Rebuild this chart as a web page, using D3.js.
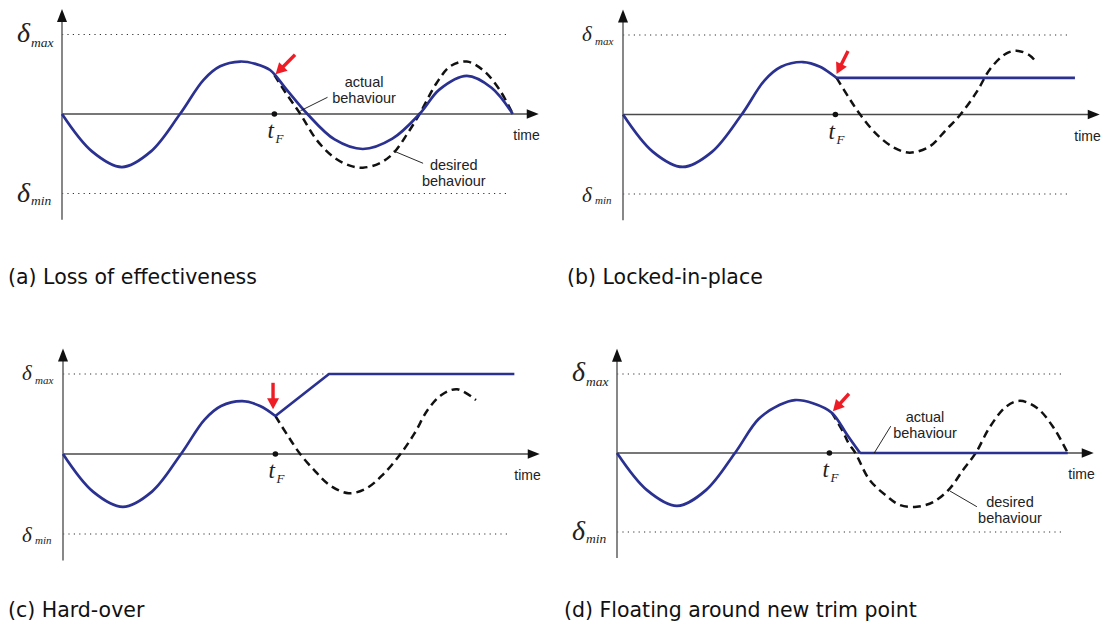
<!DOCTYPE html>
<html>
<head>
<meta charset="utf-8">
<script src="https://cdn.jsdelivr.net/npm/d3@7"></script>
<style>
  body { margin: 0; background: #fff; }
  svg { display: block; }
</style>
</head>
<body>
<svg id="chart" width="1109" height="633"></svg>
<script>
/* Actuator failure modes — four small panels, deflection vs time.
 * Time is in half-periods of the command signal, deflection is a
 * fraction of delta_max. */

var T_FAULT = 1.8;
var T_DOTTED_END = 3.79;
var T_AXIS_END = 4.04;

/* (a) loss of effectiveness */
var actualA = [[0,0],[0.254,-0.47],[0.508,-0.667],[0.754,-0.47],[1.0,0],[1.2,0.43],[1.34,0.60],
  [1.51,0.66],[1.64,0.63],[1.763,0.553],[1.907,0.30],[2.08,0],[2.31,-0.32],[2.55,-0.44],
  [2.80,-0.31],[3.03,0],[3.20,0.31],[3.43,0.48],[3.64,0.33],[3.82,0]];
var desiredA = [[1.80,0.49],[1.89,0.28],[2.02,0],[2.16,-0.33],[2.30,-0.54],[2.44,-0.65],[2.55,-0.675],
  [2.69,-0.62],[2.81,-0.49],[2.93,-0.24],[3.03,0],[3.175,0.39],[3.29,0.60],[3.43,0.66],
  [3.57,0.55],[3.71,0.30],[3.82,0]];

/* (b) locked in place */
var actualB = [[0,0],[0.254,-0.47],[0.506,-0.66],[0.754,-0.47],[1.006,0],[1.2,0.43],[1.34,0.60],
  [1.525,0.66],[1.67,0.60],[1.81,0.46]];
var holdB = [[1.81,0.46],[3.83,0.46]];
var desiredB = [[1.81,0.46],[1.91,0.22],[2.01,0],[2.15,-0.25],[2.30,-0.42],[2.43,-0.48],[2.60,-0.40],
  [2.74,-0.19],[2.86,0],[3.0,0.29],[3.11,0.57],[3.25,0.77],[3.35,0.80],[3.45,0.74],[3.49,0.68]];

/* (c) hard-over */
var actualC = [[0,0],[0.254,-0.47],[0.508,-0.66],[0.754,-0.47],[1.0,0],[1.2,0.43],[1.34,0.60],
  [1.52,0.66],[1.67,0.60],[1.8,0.475]];
var rampC = [[1.8,0.475],[2.254,1.0],[3.825,1.0]];
var desiredC = [[1.8,0.475],[1.90,0.24],[2.01,0],[2.14,-0.22],[2.26,-0.39],[2.42,-0.49],[2.57,-0.43],
  [2.71,-0.26],[2.86,0],[2.98,0.26],[3.09,0.55],[3.21,0.74],[3.34,0.81],[3.50,0.675]];

/* (d) floating around new trim point */
var actualD = [[0,0],[0.254,-0.47],[0.508,-0.67],[0.754,-0.47],[1.0,0],[1.2,0.43],[1.38,0.61],
  [1.508,0.67],[1.66,0.63],[1.82,0.51],[1.95,0.23],[2.06,0]];
var holdD = [[2.06,0],[3.82,0]];
var desiredD = [[1.82,0.51],[1.915,0.27],[1.96,0.13],[2.02,0],[2.14,-0.34],[2.29,-0.55],[2.40,-0.66],
  [2.54,-0.68],[2.68,-0.62],[2.82,-0.45],[2.93,-0.22],[3.04,0],[3.16,0.33],[3.30,0.59],
  [3.415,0.66],[3.56,0.57],[3.70,0.32],[3.82,0]];

/* red "fault" arrows: [tail, tip] */
var faultArrows = {
  a: [[1.975,0.745],[1.81,0.50]],
  b: [[1.907,0.80],[1.81,0.51]],
  c: [[1.78,0.89],[1.78,0.56]],
  d: [[1.966,0.75],[1.83,0.53]]
};

/* behaviour callouts: leader [from, to], label anchor [t, v of first line] */
var calloutA = {
  actual:  { leader: [[2.25,0.21],[2.02,0.04]], at: [2.56,0.34] },
  desired: { leader: [[2.81,-0.465],[3.06,-0.62]], at: [3.32,-0.70] }
};
var calloutD = {
  actual:  { leader: [[2.32,0.34],[2.18,0]], at: [2.61,0.39] },
  desired: { leader: [[2.82,-0.48],[3.05,-0.68]], at: [3.33,-0.68] }
};

var captions = ["(a) Loss of effectiveness", "(b) Locked-in-place", "(c) Hard-over",
  "(d) Floating around new trim point"];

var BLUE = "#2a3190";
var RED = "#ee1c25";
var SANS = "'Liberation Sans', Arial, sans-serif";
var SERIF = "'Liberation Serif', 'Times New Roman', serif";

var panels = [
  { key: "a", x0: 62,  y0: 114, sy: 79.5, big: true,  actual: actualA, desired: desiredA, straight: null,
    callout: calloutA, caption: captions[0], capX: 8,   capY: 284 },
  { key: "b", x0: 623, y0: 114.5, sy: 79.5, big: false, actual: actualB, desired: desiredB, straight: holdB,
    callout: null, caption: captions[1], capX: 567, capY: 284 },
  { key: "c", x0: 63,  y0: 454, sy: 80,   big: false, actual: actualC, desired: desiredC, straight: rampC,
    callout: null, caption: captions[2], capX: 8,   capY: 617 },
  { key: "d", x0: 617, y0: 453, sy: 79,   big: true,  actual: actualD, desired: desiredD, straight: holdD,
    callout: calloutD, caption: captions[3], capX: 564, capY: 617 }
];

var svg = d3.select("#chart");

panels.forEach(function (p) {
  var x = d3.scaleLinear().domain([0, 4]).range([p.x0, p.x0 + 472]);
  var y = d3.scaleLinear().domain([-1, 1]).range([p.y0 + p.sy, p.y0 - p.sy]);
  var g = svg.append("g").attr("class", "panel panel-" + p.key);

  var curve = d3.line().x(function (d) { return x(d[0]); }).y(function (d) { return y(d[1]); })
    .curve(d3.curveCatmullRom.alpha(0.5));
  var straight = d3.line().x(function (d) { return x(d[0]); }).y(function (d) { return y(d[1]); });

  /* delta_max / delta_min dotted guides */
  [1, -1].forEach(function (v) {
    g.append("line")
      .attr("x1", x(0)).attr("x2", x(T_DOTTED_END))
      .attr("y1", y(v)).attr("y2", y(v))
      .attr("stroke", "#333").attr("stroke-width", 1.2)
      .attr("stroke-dasharray", "1.2,4.2");
  });

  /* axes */
  g.append("line")
    .attr("x1", x(0)).attr("x2", x(T_AXIS_END) - 8)
    .attr("y1", y(0)).attr("y2", y(0))
    .attr("stroke", "#4a4a4a").attr("stroke-width", 1.4);
  var yBottom = y(-1.33), yTop = y(1.32);
  g.append("line")
    .attr("x1", x(0)).attr("x2", x(0))
    .attr("y1", yBottom).attr("y2", yTop + 10)
    .attr("stroke", "#6a6a6a").attr("stroke-width", 1.6);
  var tipX = x(T_AXIS_END);
  g.append("path")
    .attr("d", "M" + tipX + "," + y(0) + "L" + (tipX - 12) + "," + (y(0) - 4.8) +
      "L" + (tipX - 12) + "," + (y(0) + 4.8) + "Z")
    .attr("fill", "#111");
  g.append("path")
    .attr("d", "M" + x(0) + "," + yTop + "L" + (x(0) - 5) + "," + (yTop + 13) +
      "L" + (x(0) + 5) + "," + (yTop + 13) + "Z")
    .attr("fill", "#111");

  /* time label */
  g.append("text")
    .attr("x", tipX + 1).attr("y", y(0) + 26)
    .attr("text-anchor", "end")
    .attr("font-family", SANS).attr("font-size", 14)
    .attr("fill", "#222")
    .text("time");

  /* delta labels */
  var dSize = p.big ? 28 : 21, sSize = p.big ? 13.5 : 11;
  var dX = p.big ? x(0) - 45 : x(0) - 41, sX = p.big ? x(0) - 31 : x(0) - 28;
  [[1, "max"], [-1, "min"]].forEach(function (l) {
    var base = y(l[0]);
    g.append("text")
      .attr("x", dX).attr("y", base + (l[0] > 0 ? (p.big ? 7 : 6) : 8))
      .attr("font-family", SERIF).attr("font-style", "italic")
      .attr("font-size", dSize).attr("fill", "#222")
      .text("\u03b4");
    g.append("text")
      .attr("x", sX).attr("y", base + (l[0] > 0 ? (p.big ? 12 : 10) : (p.big ? 11 : 10)))
      .attr("font-family", SERIF).attr("font-style", "italic")
      .attr("font-size", sSize).attr("fill", "#222")
      .text(l[1]);
  });

  /* desired (dashed) then actual (blue) */
  g.append("path")
    .attr("d", curve(p.desired))
    .attr("fill", "none").attr("stroke", "#111")
    .attr("stroke-width", 2.5).attr("stroke-dasharray", "8,5");
  g.append("path")
    .attr("d", curve(p.actual))
    .attr("fill", "none").attr("stroke", BLUE)
    .attr("stroke-width", 2.7).attr("stroke-linejoin", "round");
  if (p.straight) {
    g.append("path")
      .attr("d", straight(p.straight))
      .attr("fill", "none").attr("stroke", BLUE)
      .attr("stroke-width", 2.7).attr("stroke-linejoin", "miter");
  }

  /* fault instant */
  g.append("circle")
    .attr("cx", x(T_FAULT)).attr("cy", y(0)).attr("r", 2.8)
    .attr("fill", "#111");
  g.append("text")
    .attr("x", x(T_FAULT) - 7).attr("y", y(0) + 24)
    .attr("font-family", SERIF).attr("font-style", "italic")
    .attr("font-size", 23).attr("fill", "#222")
    .text("t");
  g.append("text")
    .attr("x", x(T_FAULT) + 1).attr("y", y(0) + 29)
    .attr("font-family", SERIF).attr("font-style", "italic")
    .attr("font-size", 13).attr("fill", "#222")
    .text("F");

  /* callouts */
  if (p.callout) {
    [["actual", p.callout.actual], ["desired", p.callout.desired]].forEach(function (c) {
      var ld = c[1].leader;
      g.append("line")
        .attr("x1", x(ld[0][0])).attr("y1", y(ld[0][1]))
        .attr("x2", x(ld[1][0])).attr("y2", y(ld[1][1]))
        .attr("stroke", "#111").attr("stroke-width", 0.9);
      var t = g.append("text")
        .attr("x", x(c[1].at[0])).attr("y", y(c[1].at[1]))
        .attr("text-anchor", "middle")
        .attr("font-family", SANS).attr("font-size", 14.5)
        .attr("fill", "#222");
      t.append("tspan").text(c[0]);
      t.append("tspan").attr("x", x(c[1].at[0])).attr("dy", 16).text("behaviour");
    });
  }

  /* red arrow pointing at the fault */
  var fa = faultArrows[p.key];
  var x1 = x(fa[0][0]), y1 = y(fa[0][1]), x2 = x(fa[1][0]), y2 = y(fa[1][1]);
  var len = Math.hypot(x2 - x1, y2 - y1), ux = (x2 - x1) / len, uy = (y2 - y1) / len;
  var hl = 11, hw = 6;
  var bx = x2 - ux * hl, by = y2 - uy * hl;
  g.append("line")
    .attr("x1", x1).attr("y1", y1).attr("x2", bx + ux).attr("y2", by + uy)
    .attr("stroke", RED).attr("stroke-width", 3.4);
  g.append("path")
    .attr("d", "M" + x2 + "," + y2 + "L" + (bx - uy * hw) + "," + (by + ux * hw) +
      "L" + (bx + uy * hw) + "," + (by - ux * hw) + "Z")
    .attr("fill", RED);

  /* caption */
  svg.append("text")
    .attr("x", p.capX).attr("y", p.capY)
    .attr("font-family", "'DejaVu Sans', sans-serif").attr("font-size", 20.5)
    .attr("fill", "#111")
    .text(p.caption);
});
</script>
</body>
</html>
